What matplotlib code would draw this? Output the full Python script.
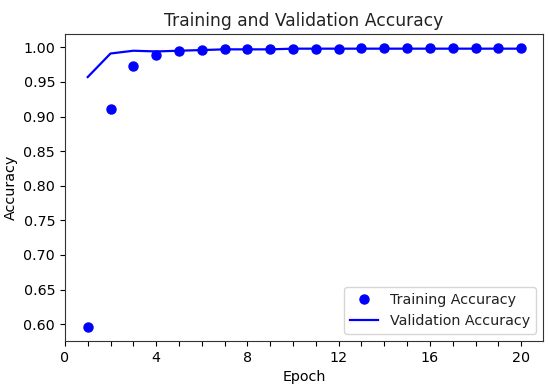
import matplotlib
matplotlib.use('Agg')
import matplotlib.pyplot as plt

# Datos de precisión por época
epochs = list(range(1, 21))
train_acc = [0.596, 0.911, 0.973, 0.989, 0.994, 0.996, 0.997, 0.997, 0.998, 0.998,
             0.998, 0.998, 0.999, 0.999, 0.999, 0.999, 0.999, 0.999, 0.999, 0.999]
val_acc = [0.957, 0.991, 0.995, 0.994, 0.995, 0.996, 0.997, 0.997, 0.997, 0.998,
           0.998, 0.998, 0.998, 0.998, 0.998, 0.998, 0.998, 0.998, 0.998, 0.998]

plt.rcParams['font.size'] = 10.3
plt.rcParams['text.color'] = '#222222'
plt.rcParams['axes.edgecolor'] = '#333333'

fig = plt.figure(figsize=(5.5, 3.91), dpi=100)
plt.plot(epochs, train_acc, 'bo', markersize=6.5, label='Training Accuracy')
plt.plot(epochs, val_acc, 'b', linewidth=1.6, label='Validation Accuracy')

plt.title('Training and Validation Accuracy')
plt.xlabel('Epoch')
plt.ylabel('Accuracy')
plt.legend(loc='lower right')

plt.xticks(range(0, 21), [str(i) if i % 4 == 0 else '' for i in range(0, 21)])
plt.xlim(left=0)

plt.subplots_adjust(left=0.118, right=0.987, bottom=0.128, top=0.913)
plt.savefig('out.png')
